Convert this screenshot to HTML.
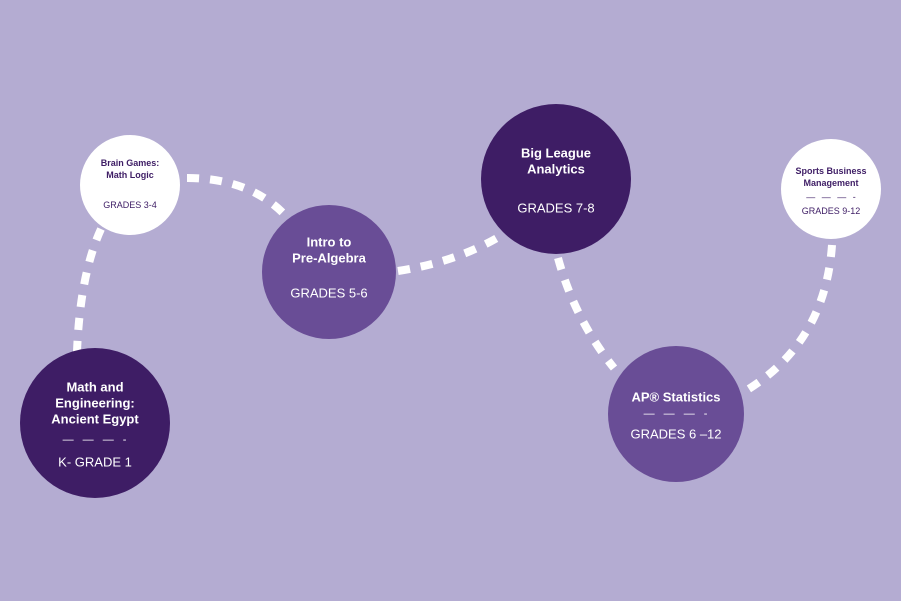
<!DOCTYPE html>
<html><head><meta charset="utf-8"><style>
html,body{margin:0;padding:0;background:#b4acd2;}
svg{display:block}
text{font-family:"Liberation Sans",sans-serif;text-anchor:middle;dominant-baseline:central}
.b{font-weight:bold}
</style></head><body>
<svg width="901" height="601" viewBox="0 0 901 601">
<rect width="901" height="601" fill="#b4acd2"/>
<g fill="none" stroke="#fff" stroke-width="8" stroke-dasharray="12 11">
<path d="M101,229 Q80,275 77,352"/>
<path d="M187,178 Q250,178 286,216"/>
<path d="M398,271 Q455,262 497,238"/>
<path d="M558,258 Q575,320 614,368"/>
<path d="M832,245 Q825,345 742,393"/>
</g>
<circle cx="95" cy="423" r="75" fill="#3e1d65"/>
<circle cx="130" cy="185" r="50" fill="#fff"/>
<circle cx="329" cy="272" r="67" fill="#694d96"/>
<circle cx="556" cy="179" r="75" fill="#3e1d65"/>
<circle cx="676" cy="414" r="68" fill="#694d96"/>
<circle cx="831" cy="189" r="50" fill="#fff"/>

<g fill="#fff" font-size="13">
<text class="b" x="95" y="387">Math and</text>
<text class="b" x="95" y="403">Engineering:</text>
<text class="b" x="95" y="419">Ancient Egypt</text>
<text x="96" y="440" font-size="11" letter-spacing="3">— — — -</text>
<text x="95" y="462">K- GRADE 1</text>

<text class="b" x="329" y="242">Intro to</text>
<text class="b" x="329" y="258">Pre-Algebra</text>
<text x="329" y="293">GRADES 5-6</text>

<text class="b" x="556" y="153">Big League</text>
<text class="b" x="556" y="169">Analytics</text>
<text x="556" y="208">GRADES 7-8</text>

<text class="b" x="676" y="397">AP® Statistics</text>
<text x="677" y="414" font-size="11" letter-spacing="3">— — — -</text>
<text x="676" y="434">GRADES 6 –12</text>
</g>
<g fill="#3e1d65" font-size="9">
<text class="b" x="130" y="163">Brain Games:</text>
<text class="b" x="130" y="175">Math Logic</text>
<text x="130" y="205">GRADES 3-4</text>

<text class="b" x="831" y="171">Sports Business</text>
<text class="b" x="831" y="183">Management</text>
<text x="832" y="197" font-size="9" letter-spacing="2">— — — -</text>
<text x="831" y="211">GRADES 9-12</text>
</g>
</svg>
</body></html>
